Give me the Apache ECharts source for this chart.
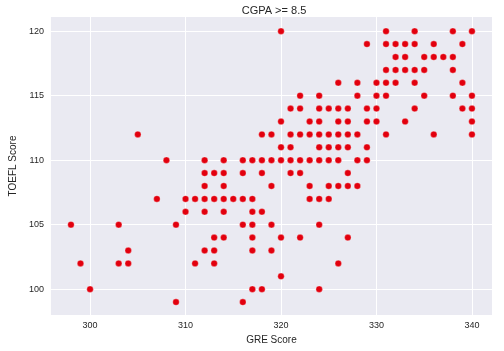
<!DOCTYPE html>
<html>
<head>
<meta charset="utf-8">
<script src="https://cdn.jsdelivr.net/npm/echarts@6/dist/echarts.min.js"></script>
<style>html,body{margin:0;padding:0;background:#fff}#c{width:504px;height:351px}</style>
</head>
<body>
<div id="c"></div>
<script>
// Data grouped by TOEFL score: GRE scores of points on that row
var toeflRows = [120,119,118,117,116,115,114,113,112,111,110,109,108,107,106,105,104,103,102,101,100,99];
var greByRow = [
  [320,331,334,338,340],
  [329,331,332,333,334,336,339],
  [332,333,335,336,337,338],
  [331,332,333,334,335,338],
  [326,328,330,331,332,334,339],
  [322,324,328,330,331,335,338,340],
  [321,322,324,325,326,327,329,330,334,339,340],
  [320,323,324,326,327,329,330,333,340],
  [305,318,319,321,322,323,324,325,326,327,328,331,336,340],
  [320,321,324,325,326,327,329],
  [308,312,314,316,317,318,319,320,321,322,323,324,325,326,328,329],
  [312,313,314,316,318,321,322,327],
  [312,314,319,323,325,326,327,328],
  [307,310,311,312,313,314,315,316,317,323,324,325],
  [310,312,314,317,318],
  [298,303,309,316,317,319,324],
  [313,314,317,320,322,327],
  [304,312,313,317,319],
  [299,303,304,311,313,326],
  [320],
  [300,317,318,324],
  [309,316]
];
var xTicks = [300,310,320,330,340];
var yTicks = [100,105,110,115,120];

var points = [];
toeflRows.forEach(function(t, i){ greByRow[i].forEach(function(g){ points.push([g, t]); }); });

var txt = '#262626';
var font = 'Liberation Sans, Arial, sans-serif';
var chart = echarts.init(document.getElementById('c'), null, {renderer:'canvas'});
chart.setOption({
  animation: false,
  backgroundColor: '#ffffff',
  title: {
    text: 'CGPA >= 8.5', left: 269, top: 0, textAlign: 'center',
    textStyle: {fontSize: 11, fontWeight: 'normal', color: txt, fontFamily: font}
  },
  grid: {left: 46, right: 12, top: 17, bottom: 36, show: true, backgroundColor: '#EAEAF2', borderWidth: 0},
  xAxis: {
    type: 'value', min: 295.9, max: 342.1,
    name: 'GRE Score', nameLocation: 'middle', nameGap: 20,
    nameTextStyle: {fontSize: 10, color: txt, fontFamily: font},
    axisLine: {show: false},
    axisTick: {show: false, customValues: xTicks},
    axisLabel: {customValues: xTicks, fontSize: 9, color: txt, fontFamily: font, margin: 6},
    splitLine: {show: true, lineStyle: {color: '#ffffff', width: 1}}
  },
  yAxis: {
    type: 'value', min: 98, max: 121.1,
    name: 'TOEFL Score', nameLocation: 'middle', nameGap: 29,
    nameTextStyle: {fontSize: 10, color: txt, fontFamily: font},
    axisLine: {show: false},
    axisTick: {show: false, customValues: yTicks},
    axisLabel: {customValues: yTicks, fontSize: 9, color: txt, fontFamily: font, margin: 7},
    splitLine: {show: true, lineStyle: {color: '#ffffff', width: 1}}
  },
  series: [{
    type: 'scatter', data: points, symbolSize: 6.5,
    itemStyle: {color: '#e2000e', opacity: 1, borderColor: '#ffffff', borderWidth: 0.3}
  }]
});
</script>
</body>
</html>
